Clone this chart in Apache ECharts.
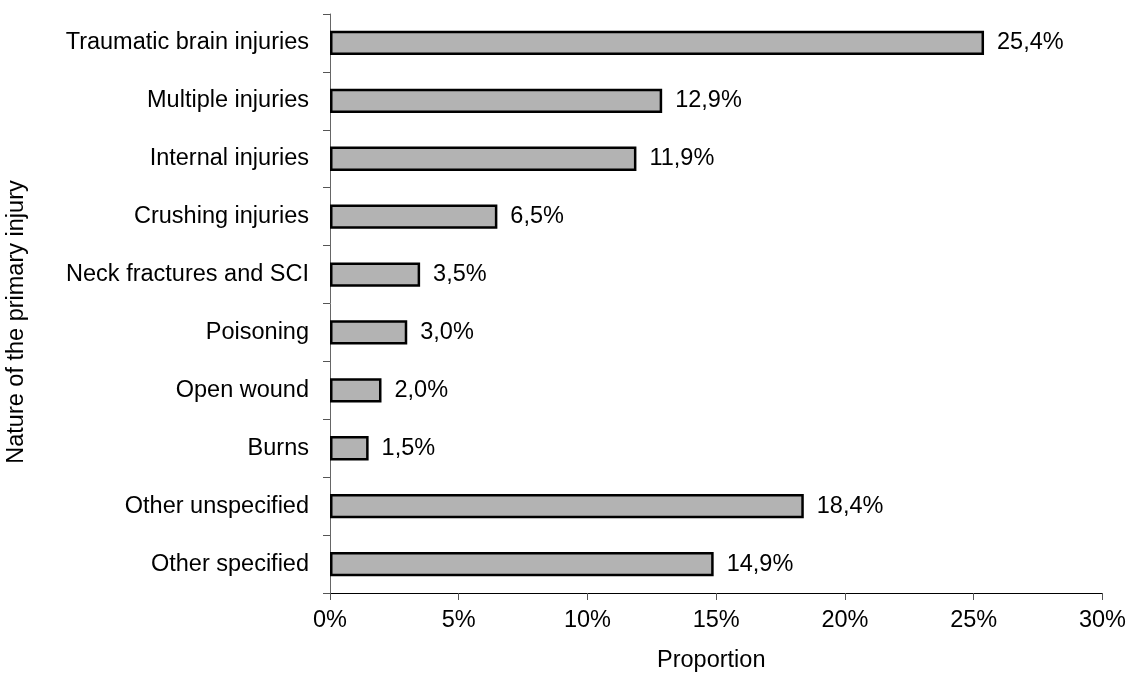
<!DOCTYPE html>
<html>
<head>
<meta charset="utf-8">
<script src="https://cdn.jsdelivr.net/npm/echarts@6/dist/echarts.min.js"></script>
<style>
  html, body { margin: 0; padding: 0; background: #fff; }
  #chart { width: 1129px; height: 678px; }
</style>
</head>
<body>
<div id="chart"></div>
<script>
// injury categories, top to bottom
const categories = [
  'Traumatic brain injuries',
  'Multiple injuries',
  'Internal injuries',
  'Crushing injuries',
  'Neck fractures and SCI',
  'Poisoning',
  'Open wound',
  'Burns',
  'Other unspecified',
  'Other specified'
];
const proportions = [25.4, 12.9, 11.9, 6.5, 3.5, 3.0, 2.0, 1.5, 18.4, 14.9];
const xTicks = [0, 5, 10, 15, 20, 25, 30];

const font = 'Liberation Sans, Arial, sans-serif';
const fs = 23.5;
const chart = echarts.init(document.getElementById('chart'));

chart.setOption({
  animation: false,
  grid: { left: 330, right: 24, top: 14, bottom: 80 },
  xAxis: {
    type: 'value',
    min: xTicks[0],
    max: xTicks[xTicks.length - 1],
    interval: 5,
    name: 'Proportion',
    nameLocation: 'middle',
    nameGap: 56,
    nameTextStyle: { fontFamily: font, fontSize: fs, color: '#000', padding: [0, 10, 0, 0] },
    axisLine: { show: true, lineStyle: { color: '#000', width: 1 } },
    axisTick: { show: true, length: 7, lineStyle: { color: '#555' } },
    splitLine: { show: false },
    axisLabel: {
      margin: 16,
      fontFamily: font, fontSize: fs, color: '#000',
      formatter: v => v + '%'
    }
  },
  yAxis: {
    type: 'category',
    inverse: true,
    data: categories,
    axisLine: { show: true, lineStyle: { color: '#666', width: 1 } },
    axisTick: { show: true, length: 7, alignWithLabel: false, lineStyle: { color: '#555' } },
    axisLabel: { margin: 21, fontFamily: font, fontSize: fs, color: '#000' }
  },
  graphic: [{
    type: 'text',
    x: 17,
    y: 322,
    rotation: Math.PI / 2,
    style: {
      text: 'Nature of the primary injury',
      fontFamily: font,
      fontSize: fs,
      fill: '#000',
      textAlign: 'center',
      textVerticalAlign: 'middle'
    }
  }],
  series: [{
    type: 'bar',
    data: proportions,
    barCategoryGap: '58%',
    itemStyle: { color: '#b3b3b3', borderColor: '#000', borderWidth: 2.5 },
    label: {
      show: true,
      position: 'right',
      distance: 13,
      fontFamily: font, fontSize: fs, color: '#000',
      formatter: p => p.value.toFixed(1).replace('.', ',') + '%'
    }
  }]
});
</script>
</body>
</html>
